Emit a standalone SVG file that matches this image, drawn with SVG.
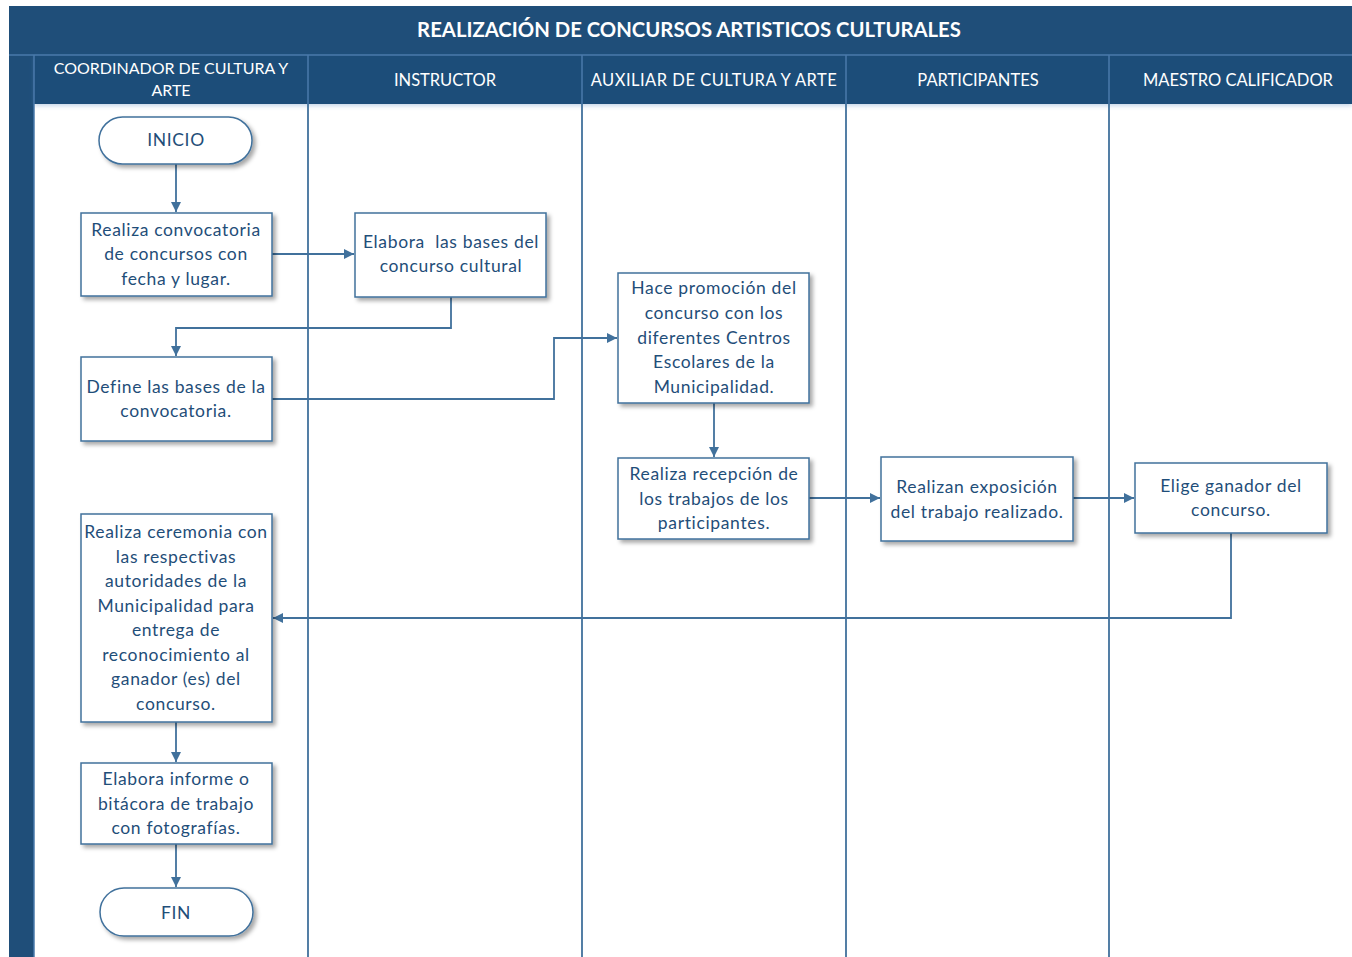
<svg xmlns="http://www.w3.org/2000/svg" width="1352" height="957" viewBox="0 0 1352 957">
  <defs>
    <filter id="shadow" x="-10%" y="-10%" width="130%" height="130%">
      <feDropShadow dx="3" dy="3" stdDeviation="2" flood-color="#000" flood-opacity="0.35"/>
    </filter>
    <filter id="hdrglow" x="-5%" y="-20%" width="110%" height="160%">
      <feDropShadow dx="0" dy="2" stdDeviation="2" flood-color="#5b8cc0" flood-opacity="0.35"/>
    </filter>
    <marker id="arrow" markerUnits="userSpaceOnUse" markerWidth="12" markerHeight="10" refX="10" refY="5" orient="auto">
      <path d="M0,0 L10,5 L0,10 Z" fill="#41719C"/>
    </marker>
    <style>
      .band { fill: #1F4E79; }
      .sep { stroke: #4A7AAB; stroke-width: 1.5; fill: none; }
      .lane { stroke: #41719C; stroke-width: 1.8; fill: none; }
      .title { font-family: Lato, "Liberation Sans", sans-serif; font-weight: bold; font-size: 20.3px; fill: #ffffff; text-anchor: middle; }
      .hdr { font-family: Lato, "Liberation Sans", sans-serif; font-size: 16.5px; fill: #ffffff; text-anchor: middle; }
      .hdr.narrow { font-size: 16px; }
      .hdr.wide { letter-spacing: 0.5px; }
      .box { fill: #ffffff; stroke: #41719C; stroke-width: 1.5; filter: url(#shadow); }
      .txt { font-family: Lato, "Liberation Sans", sans-serif; font-size: 17.5px; letter-spacing: 0.65px; fill: #1F4E79; text-anchor: middle; }
      .conn { stroke: #41719C; stroke-width: 1.8; fill: none; }
    </style>
  </defs>

  <rect width="1352" height="957" fill="#ffffff"/>

  <!-- pool frame: title bar, side strip and lane headers -->
  <g id="pool">
    <rect class="band" x="9" y="6" width="1343" height="951"/>
    <rect x="34" y="104" width="1318" height="853" fill="#ffffff"/>
    <rect class="band" x="34" y="55" width="1318" height="49" filter="url(#hdrglow)"/>
    <line class="sep" x1="9" y1="55" x2="1352" y2="55"/>
    <line class="sep" x1="34" y1="55" x2="34" y2="957"/>
    <line class="sep" x1="308" y1="55" x2="308" y2="104"/>
    <line class="sep" x1="582" y1="55" x2="582" y2="104"/>
    <line class="sep" x1="846" y1="55" x2="846" y2="104"/>
    <line class="sep" x1="1109" y1="55" x2="1109" y2="104"/>
    <text class="title" x="689" y="37">REALIZACIÓN DE CONCURSOS ARTISTICOS CULTURALES</text>
    <text class="hdr narrow" x="171" y="74">COORDINADOR DE CULTURA Y</text>
    <text class="hdr narrow" x="171" y="96">ARTE</text>
    <text class="hdr" x="445" y="86">INSTRUCTOR</text>
    <text class="hdr wide" x="714" y="86">AUXILIAR DE CULTURA Y ARTE</text>
    <text class="hdr" x="978" y="86">PARTICIPANTES</text>
    <text class="hdr" x="1238" y="86">MAESTRO CALIFICADOR</text>
  </g>

  <!-- lane dividers -->
  <g id="lanes">
    <line class="lane" x1="308" y1="104" x2="308" y2="957"/>
    <line class="lane" x1="582" y1="104" x2="582" y2="957"/>
    <line class="lane" x1="846" y1="104" x2="846" y2="957"/>
    <line class="lane" x1="1109" y1="104" x2="1109" y2="957"/>
  </g>

  <!-- connectors -->
  <g id="connectors">
    <path class="conn" d="M176,164 V212" marker-end="url(#arrow)"/>
    <path class="conn" d="M272,254 H354" marker-end="url(#arrow)"/>
    <path class="conn" d="M451,297 V328 H176 V356" marker-end="url(#arrow)"/>
    <path class="conn" d="M272,399 H554 V338 H617" marker-end="url(#arrow)"/>
    <path class="conn" d="M714,403 V457" marker-end="url(#arrow)"/>
    <path class="conn" d="M809,498 H880" marker-end="url(#arrow)"/>
    <path class="conn" d="M1073,498 H1134" marker-end="url(#arrow)"/>
    <path class="conn" d="M1231,533 V618 H273" marker-end="url(#arrow)"/>
    <path class="conn" d="M176,722 V762" marker-end="url(#arrow)"/>
    <path class="conn" d="M176,844 V887" marker-end="url(#arrow)"/>
  </g>

  <!-- nodes -->
  <g id="inicio">
    <rect class="box" x="99" y="117" width="153" height="47" rx="23.5"/>
    <text class="txt" x="176" y="146">INICIO</text>
  </g>
  <g id="convocatoria">
    <rect class="box" x="81" y="213" width="191" height="83"/>
    <text class="txt" x="176" y="236">Realiza convocatoria</text>
    <text class="txt" x="176" y="260">de concursos con</text>
    <text class="txt" x="176" y="285">fecha y lugar.</text>
  </g>
  <g id="elabora-bases">
    <rect class="box" x="355" y="213" width="191" height="84"/>
    <text class="txt" x="451" y="248" xml:space="preserve">Elabora  las bases del</text>
    <text class="txt" x="451" y="272">concurso cultural</text>
  </g>
  <g id="define-bases">
    <rect class="box" x="81" y="357" width="191" height="84"/>
    <text class="txt" x="176" y="393">Define las bases de la</text>
    <text class="txt" x="176" y="417">convocatoria.</text>
  </g>
  <g id="promocion">
    <rect class="box" x="618" y="273" width="191" height="130"/>
    <text class="txt" x="714" y="294">Hace promoción del</text>
    <text class="txt" x="714" y="319">concurso con los</text>
    <text class="txt" x="714" y="344">diferentes Centros</text>
    <text class="txt" x="714" y="368">Escolares de la</text>
    <text class="txt" x="714" y="393">Municipalidad.</text>
  </g>
  <g id="recepcion">
    <rect class="box" x="618" y="458" width="191" height="81"/>
    <text class="txt" x="714" y="480">Realiza recepción de</text>
    <text class="txt" x="714" y="505">los trabajos de los</text>
    <text class="txt" x="714" y="529">participantes.</text>
  </g>
  <g id="exposicion">
    <rect class="box" x="881" y="457" width="192" height="84"/>
    <text class="txt" x="977" y="493">Realizan exposición</text>
    <text class="txt" x="977" y="518">del trabajo realizado.</text>
  </g>
  <g id="ganador">
    <rect class="box" x="1135" y="463" width="192" height="70"/>
    <text class="txt" x="1231" y="492">Elige ganador del</text>
    <text class="txt" x="1231" y="516">concurso.</text>
  </g>
  <g id="ceremonia">
    <rect class="box" x="81" y="514" width="191" height="208"/>
    <text class="txt" x="176" y="538">Realiza ceremonia con</text>
    <text class="txt" x="176" y="563">las respectivas</text>
    <text class="txt" x="176" y="587">autoridades de la</text>
    <text class="txt" x="176" y="612">Municipalidad para</text>
    <text class="txt" x="176" y="636">entrega de</text>
    <text class="txt" x="176" y="661">reconocimiento al</text>
    <text class="txt" x="176" y="685">ganador (es) del</text>
    <text class="txt" x="176" y="710">concurso.</text>
  </g>
  <g id="informe">
    <rect class="box" x="81" y="763" width="191" height="81"/>
    <text class="txt" x="176" y="785">Elabora informe o</text>
    <text class="txt" x="176" y="810">bitácora de trabajo</text>
    <text class="txt" x="176" y="834">con fotografías.</text>
  </g>
  <g id="fin">
    <rect class="box" x="100" y="888" width="153" height="48" rx="24"/>
    <text class="txt" x="176" y="919">FIN</text>
  </g>
</svg>
